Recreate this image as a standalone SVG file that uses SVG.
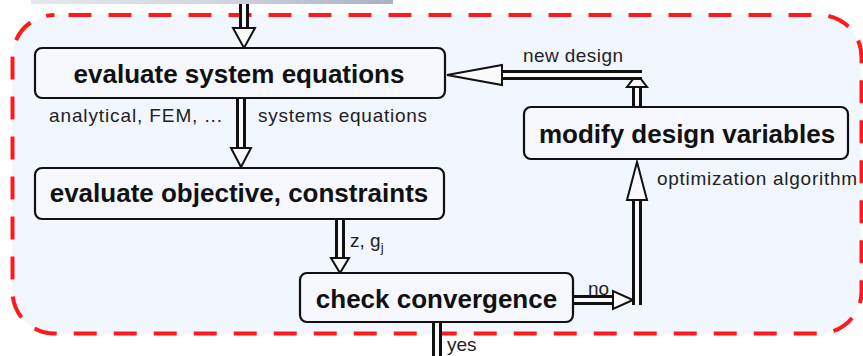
<svg xmlns="http://www.w3.org/2000/svg" width="863" height="356" viewBox="0 0 863 356">
<style>
.node{fill:#f6f8fe;stroke:#111;stroke-width:2.2}
.nt{font-family:"Liberation Sans",Arial,sans-serif;font-weight:bold;font-size:26px;fill:#111;text-anchor:middle}
.lb{font-family:"Liberation Sans",Arial,sans-serif;font-size:19px;fill:#222}
.so{fill:none;stroke:#111;stroke-width:10}
.si{fill:none;stroke:#fafafa;stroke-width:4}
.hd{fill:#fafafa;stroke:#111;stroke-width:2;stroke-linejoin:miter}
</style>
<defs>
<linearGradient id="gbar" x1="0" y1="0" x2="1" y2="0">
<stop offset="0" stop-color="#e4e8ef"/>
<stop offset="0.5" stop-color="#d2d7e0"/>
<stop offset="1" stop-color="#a9b1c1"/>
</linearGradient>
</defs>
<rect width="863" height="356" fill="#ffffff"/>
<rect x="31" y="-2" width="362" height="6" fill="url(#gbar)"/>
<rect id="frame" x="12.5" y="15" width="849" height="318.5" rx="42" ry="42" fill="#f2f6fe" stroke="#ff1a1a" stroke-width="4" stroke-dasharray="23 17" stroke-dashoffset="26"/>
<g id="connectors">
<path class="so" d="M244,4 V30"/><path class="si" d="M244,4 V30"/>
<polygon class="hd" points="233,28 255,28 244,48"/>
<path class="so" d="M241,98 V150"/><path class="si" d="M241,98 V150"/>
<polygon class="hd" points="231,148 251,148 241,167"/>
<path class="so" d="M340,220 V260"/><path class="si" d="M340,220 V260"/>
<polygon class="hd" points="331,258 349,258 340,273"/>
<path class="so" d="M573,300 H615"/><path class="si" d="M573,300 H615"/>
<polygon class="hd" points="613,291 613,309 633,300"/>
<path class="so" d="M637,305 V198"/><path class="si" d="M637,305 V198"/>
<polygon class="hd" points="627,200 647,200 637,162"/>
<path class="so" d="M637,107 V80"/><path class="si" d="M637,107 V80"/>
<polygon class="hd" points="627,87 647,87 637,74"/>
<path class="so" d="M642,75 H500"/><path class="si" d="M642,75 H500"/>
<polygon class="hd" points="502,65 502,85 447,75"/>
<path class="so" d="M437,322 V358"/><path class="si" d="M437,322 V358"/>
</g>
<g id="n1"><rect class="node" x="35" y="48" width="410" height="50" rx="7"/><text class="nt" x="239" y="83">evaluate system equations</text></g>
<g id="n2"><rect class="node" x="35" y="168" width="409" height="51" rx="7"/><text class="nt" x="239" y="202">evaluate objective, constraints</text></g>
<g id="n3"><rect class="node" x="524" y="107" width="324" height="52" rx="7"/><text class="nt" x="687" y="143">modify design variables</text></g>
<g id="n4"><rect class="node" x="300" y="273" width="273" height="49" rx="7"/><text class="nt" x="436.5" y="308">check convergence</text></g>
<g id="labels">
<text class="lb" x="523" y="62" textLength="100">new design</text>
<text class="lb" x="49" y="122" textLength="173">analytical, FEM, ...</text>
<text class="lb" x="258" y="122" textLength="169">systems equations</text>
<text class="lb" x="657" y="185" textLength="200">optimization algorithm</text>
<text class="lb" x="350" y="247">z, g<tspan font-size="13" dy="5">j</tspan></text>
<text class="lb" x="588" y="295">no</text>
<text class="lb" x="447" y="351" font-size="11">yes</text>
</g>
</svg>
